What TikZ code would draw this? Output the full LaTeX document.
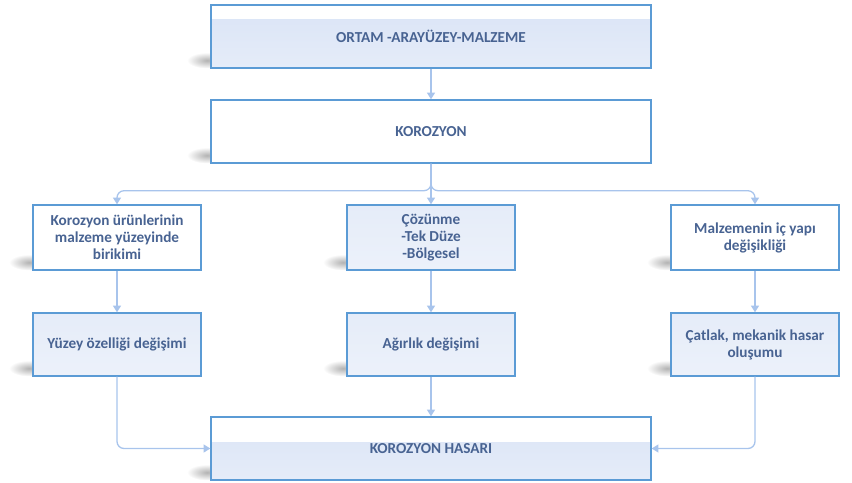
\documentclass[tikz,border=0pt]{standalone}
\usepackage{fontspec}
\setmainfont{Carlito}
\usepackage{xcolor}
\usetikzlibrary{arrows.meta, positioning, backgrounds, calc}
\definecolor{edgeblue}{RGB}{91, 155, 213}
\definecolor{linkblue}{RGB}{168, 196, 236}
\definecolor{textblue}{RGB}{72, 99, 146}
\definecolor{paleblue}{RGB}{218, 228, 246}
\definecolor{lightblue}{RGB}{236, 241, 250}

\begin{document}
\begin{tikzpicture}[
  every node/.style={font=\fontsize{13}{14.5}\selectfont\bfseries, text=textblue},
  box/.style={draw=edgeblue, line width=1.2pt, fill=white, align=center, minimum width=5.04cm, minimum height=1.95cm, inner sep=3pt},
  wide/.style={box, minimum width=13.2cm, minimum height=1.89cm},
  tinted/.style={box, top color=paleblue!70, bottom color=lightblue},
  band/.style={path picture={\shade[top color=paleblue, bottom color=paleblue!70] ([yshift=-#1]path picture bounding box.north west) rectangle (path picture bounding box.south east);}},
  arrow/.style={-{Triangle[length=2mm, width=2.4mm]}, line width=1.1pt, color=linkblue, rounded corners=6pt},
  smudge/.style={inner color=black!30, outer color=white}
]
  \useasboundingbox (0, 0) rectangle (25.56, -14.49);

  % Ust kisim
  \node[wide, band=0.42cm] (ortam) at (12.93, -1.095) {ORTAM -ARAYÜZEY-MALZEME};
  \node[wide] (koroz) at (12.93, -3.945) {KOROZYON};

  % Uc kol: ilk satir
  \node[box] (birikim) at (3.51, -7.125) {Korozyon ürünlerinin\\ malzeme yüzeyinde\\ birikimi};
  \node[tinted] (cozunme) at (12.93, -7.125) {Çözünme\\ -Tek Düze\\ -Bölgesel};
  \node[box] (icyapi) at (22.65, -7.125) {Malzemenin iç yapı\\ değişikliği};

  % Uc kol: ikinci satir
  \node[tinted, minimum height=1.89cm] (yuzey) at (3.51, -10.335) {Yüzey özelliği değişimi};
  \node[tinted, minimum height=1.89cm] (agirlik) at (12.93, -10.335) {Ağırlık değişimi};
  \node[tinted, minimum height=1.89cm] (catlak) at (22.65, -10.335) {Çatlak, mekanik hasar\\ oluşumu};

  % Sonuc
  \node[wide, band=0.75cm] (hasar) at (12.93, -13.455) {KOROZYON HASARI};

  % Golgeler
  \begin{scope}[on background layer]
    \foreach \n in {ortam, koroz, birikim, cozunme, icyapi, yuzey, agirlik, catlak, hasar}
      \shade[smudge] ($(\n.south west)+(-0.1, 0.25)$) ellipse (0.6 and 0.24);
  \end{scope}

  \draw[arrow] (ortam) -- (koroz);
  \draw[arrow] (koroz.south) -- ++(0, -0.81) -| (birikim.north);
  \draw[arrow] (koroz.south) -- ++(0, -0.81) -| (icyapi.north);
  \draw[arrow] (koroz) -- (cozunme);
  \draw[arrow] (birikim) -- (yuzey);
  \draw[arrow] (cozunme) -- (agirlik);
  \draw[arrow] (icyapi) -- (catlak);
  \draw[arrow] (yuzey.south) |- (hasar.west);
  \draw[arrow] (agirlik) -- (hasar);
  \draw[arrow] (catlak.south) |- (hasar.east);

\end{tikzpicture}
\end{document}
